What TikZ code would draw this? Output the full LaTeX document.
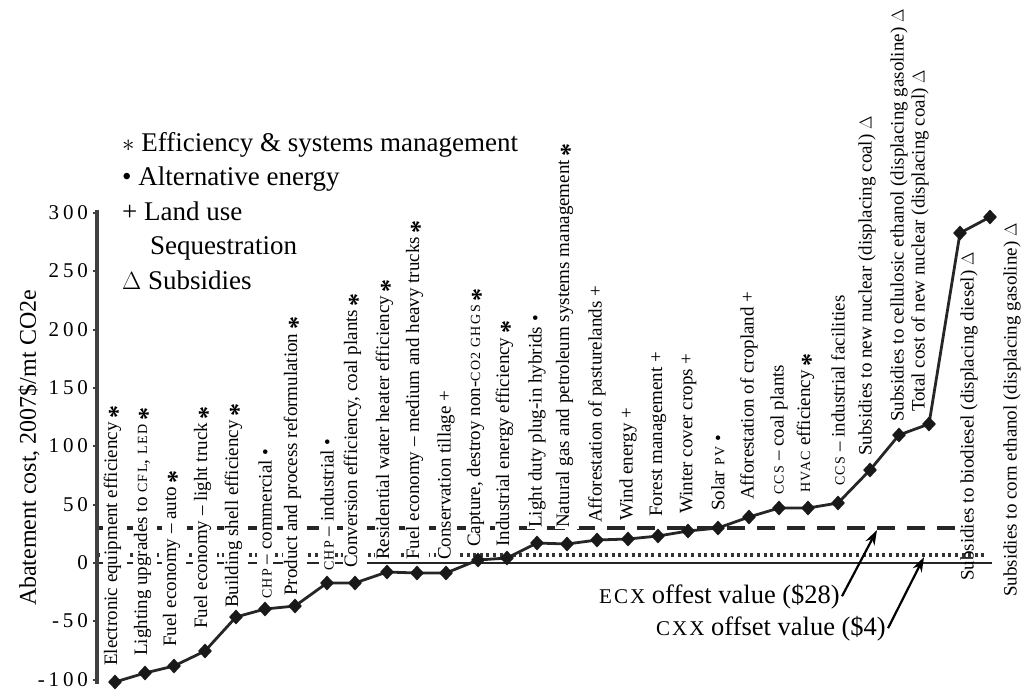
\documentclass[tikz,border=0pt]{standalone}
\usepackage{fontspec}
\setmainfont{Liberation Serif}
\newfontfamily\tickfont[LetterSpace=18]{Liberation Serif}
\usetikzlibrary{shapes.geometric,arrows.meta}
\newcommand\smc[2][14]{{\fontsize{#1}{#1}\selectfont\addfontfeature{LetterSpace=10}#2}}
\newcommand\sta{\hspace{0.2em}\raisebox{-9pt}{\fontsize{26}{26}\selectfont\bfseries *}}
\begin{document}
\begin{tikzpicture}[x=1pt,y=-1pt,
  lbl/.style={rotate=90,anchor=west,inner sep=1pt,fill=white,font=\fontsize{19}{19}\selectfont},
  lblnf/.style={lbl,fill=none},
  mk/.style={diamond,fill=black!90,inner sep=0pt,minimum width=14pt,minimum height=15pt},
  curve/.style={line width=2.8pt,black!85,line join=round},
  axisline/.style={line width=3.6pt,black!75},
  tickmark/.style={line width=2pt,black!75},
  ticklbl/.style={anchor=east,inner sep=0pt,font=\tickfont\fontsize{21}{21}\selectfont},
  zeroline/.style={line width=2.6pt,black!85},
  dotline/.style={line width=3.4pt,black!80,dash pattern=on 3pt off 3.6pt},
  dashline/.style={line width=4pt,black!85,dash pattern=on 18pt off 12pt},
  legend/.style={anchor=base west,inner sep=0pt,font=\fontsize{27}{27}\selectfont},
  annot/.style={anchor=base east,inner sep=2pt,font=\fontsize{26.5}{26.5}\selectfont},
  arr/.style={line width=2.2pt,black,-{Stealth[length=15pt,width=10pt]}}
]
\path[use as bounding box] (0,0) rectangle (1022,691);

% reference lines
\coordinate (zl) at (97,563);  \coordinate (zr) at (992,563);
\coordinate (dl) at (97,555);  \coordinate (dr) at (986,555);
\coordinate (ql) at (97,528);  \coordinate (qr) at (960,528);
\draw[zeroline] (zl) -- (zr);
\draw[dotline] (dl) -- (dr);
\draw[dashline] (ql) -- (qr);

% axis
\coordinate (ytop) at (97,210);
\coordinate (ybot) at (97,684);
\draw[axisline] (ytop) -- (ybot);
\foreach \v/\y in {300/213,250/271,200/330,150/388,100/446,50/505,0/563,-50/621,-100/680}{
  \coordinate (tka\v) at (93,\y);
  \coordinate (tkb\v) at (97,\y);
  \draw[tickmark] (tka\v) -- (tkb\v);
  \node[ticklbl] (tl\v) at (88,\y) {\v};
}
\node[rotate=90,inner sep=0pt,font=\fontsize{24}{24}\selectfont] (ytitle) at (29,448) {Abatement cost, 2007\$/mt CO2e};

% legend
\node[legend] (lg1) at (122,151) {$\ast$ Efficiency \& systems management};
\node[legend] (lg2) at (122,185) {\textbullet\ Alternative energy};
\node[legend] (lg3) at (122,220) {+ Land use};
\node[legend] (lg4) at (150,254) {Sequestration};
\node[legend] (lg5) at (122,289) {$\Delta$ Subsidies};

% labels
\node[lbl] (l1)  at (115,667) {Electronic equipment efficiency\sta};
\node[lbl] (l2)  at (145,657) {Lighting upgrades to \smc{CFL}, \smc{LED}\sta};
\node[lbl] (l3)  at (174,648) {Fuel economy -- auto\sta};
\node[lbl] (l4)  at (205,630) {Fuel economy -- light truck\sta};
\node[lbl] (l5)  at (236,609) {Building shell efficiency\sta};
\node[lbl] (l6)  at (265,600) {\smc{CHP} -- commercial \textbullet};
\node[lbl] (l7)  at (295,597) {Product and process reformulation\sta};
\node[lbl] (l8)  at (327,572) {\smc{CHP} -- industrial \textbullet};
\node[lbl] (l9)  at (355,569) {Conversion efficiency, coal plants\sta};
\node[lbl] (l10) at (387,561) {Residential water heater efficiency\sta};
\node[lbl] (l11) at (417,561) {Fuel economy -- medium and heavy trucks\sta};
\node[lbl] (l12) at (446,561) {Conservation tillage +};
\node[lbl] (l13) at (478,548) {Capture, destroy non-\smc{CO2 GHGS}\sta};
\node[lbl] (l14) at (507,548) {Industrial energy efficiency\sta};
\node[lbl] (l15) at (537,529) {Light duty plug-in hybrids \textbullet};
\node[lbl] (l16) at (567,529) {Natural gas and petroleum systems management\sta};
\node[lbl] (l17) at (597,524) {Afforestation of pasturelands +};
\node[lbl] (l18) at (628,522) {Wind energy +};
\node[lbl] (l19) at (658,518) {Forest management +};
\node[lbl] (l20) at (688,515) {Winter cover crops +};
\node[lbl] (l21) at (718,512) {Solar \smc{PV} \textbullet};
\node[lbl] (l22) at (749,501) {Afforestation of cropland +};
\node[lbl] (l23) at (779,496) {\smc{CCS} -- coal plants};
\node[lbl] (l24) at (808,494) {\smc{HVAC} efficiency\sta};
\node[lbl] (l25) at (838,487) {\smc{CCS} -- industrial facilities};
\node[lbl] (l26) at (867,457) {Subsidies to new nuclear (displacing coal) $\Delta$};
\node[lbl] (l27) at (899,423) {Subsidies to cellulosic ethanol (displacing gasoline) $\Delta$};
\node[lbl] (l28) at (920,413) {Total cost of new nuclear (displacing coal) $\Delta$};
\node[lblnf] (l29) at (969,582) {Subsidies to biodiesel (displacing diesel) $\Delta$};
\node[lblnf] (l30) at (1012,598) {Subsidies to corn ethanol (displacing gasoline) $\Delta$};

% curve points
\coordinate (p1) at (115,682);
\coordinate (p2) at (145,673);
\coordinate (p3) at (174,666);
\coordinate (p4) at (205,651);
\coordinate (p5) at (236,617);
\coordinate (p6) at (265,609);
\coordinate (p7) at (295,606);
\coordinate (p8) at (327,583);
\coordinate (p9) at (355,583);
\coordinate (p10) at (387,572);
\coordinate (p11) at (417,573);
\coordinate (p12) at (446,573);
\coordinate (p13) at (478,560);
\coordinate (p14) at (507,558);
\coordinate (p15) at (537,543);
\coordinate (p16) at (567,544);
\coordinate (p17) at (597,540);
\coordinate (p18) at (628,539);
\coordinate (p19) at (658,536);
\coordinate (p20) at (688,531);
\coordinate (p21) at (718,528);
\coordinate (p22) at (749,517);
\coordinate (p23) at (779,508);
\coordinate (p24) at (808,508);
\coordinate (p25) at (838,503);
\coordinate (p26) at (870,470);
\coordinate (p27) at (899,435);
\coordinate (p28) at (929,424);
\coordinate (p29) at (960,233);
\coordinate (p30) at (990,217);
\draw[curve] (p1) \foreach \i in {2,...,30}{ -- (p\i)};
\foreach \i in {1,...,30}{ \node[mk] (m\i) at (p\i) {}; }

% annotations
\node[annot] (ecx) at (842,603) {\smc[21]{ECX} offest value (\$28)};
\node[annot] (cxx) at (888,635) {\smc[21]{CXX} offset value (\$4)};
\coordinate (h28) at (877,530);
\coordinate (h4) at (924,557);
\draw[arr] (ecx.east) -- (h28);
\draw[arr] (cxx.east) -- (h4);
\end{tikzpicture}
\end{document}
